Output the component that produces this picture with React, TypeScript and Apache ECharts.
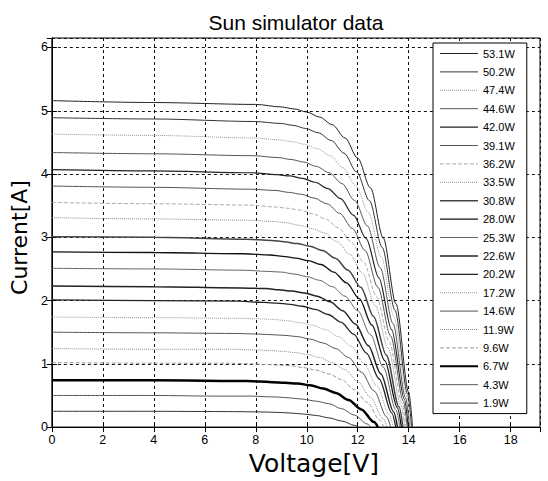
import React, { useEffect, useRef } from 'react';
import * as echarts from 'echarts';

const powerLabels = ['53.1W', '50.2W', '47.4W', '44.6W', '42.0W', '39.1W', '36.2W', '33.5W', '30.8W', '28.0W', '25.3W', '22.6W', '20.2W', '17.2W', '14.6W', '11.9W', '9.6W', '6.7W', '4.3W', '1.9W'];

const xTicks = [0, 2, 4, 6, 8, 10, 12, 14, 16, 18];
const yTicks = [0, 1, 2, 3, 4, 5, 6];

// Voltage [V] / Current [A], one pair of arrays per curve
const v53_1 = [0, 4, 8.0, 9.0, 9.5, 10.0, 10.5, 11.0, 11.5, 12.0, 12.5, 13.0, 13.5, 14.0, 14.15];
const i53_1 = [5.16, 5.13, 5.10, 5.06, 5.03, 4.98, 4.90, 4.78, 4.57, 4.25, 3.78, 2.99, 1.95, 0.55, 0];
const v50_2 = [0, 4, 7.96, 8.96, 9.46, 9.96, 10.46, 10.96, 11.46, 11.96, 12.46, 12.96, 13.46, 13.96, 14.11];
const i50_2 = [4.89, 4.87, 4.83, 4.80, 4.77, 4.72, 4.65, 4.53, 4.33, 4.03, 3.58, 2.84, 1.85, 0.52, 0];
const v47_4 = [0, 4, 7.92, 8.92, 9.42, 9.92, 10.42, 10.92, 11.42, 11.92, 12.42, 12.92, 13.42, 13.92, 14.07];
const i47_4 = [4.63, 4.61, 4.57, 4.54, 4.51, 4.47, 4.40, 4.29, 4.10, 3.82, 3.39, 2.69, 1.75, 0.50, 0];
const v44_6 = [0, 4, 7.88, 8.88, 9.38, 9.88, 10.38, 10.88, 11.38, 11.88, 12.38, 12.88, 13.38, 13.88, 14.03];
const i44_6 = [4.34, 4.32, 4.29, 4.26, 4.23, 4.19, 4.12, 4.02, 3.85, 3.58, 3.18, 2.52, 1.64, 0.46, 0];
const v42_0 = [0, 4, 7.83, 8.83, 9.33, 9.83, 10.33, 10.83, 11.33, 11.83, 12.33, 12.83, 13.33, 13.83, 13.98];
const i42_0 = [4.07, 4.05, 4.02, 3.99, 3.97, 3.93, 3.87, 3.77, 3.61, 3.35, 2.98, 2.36, 1.54, 0.44, 0];
const v39_1 = [0, 4, 7.79, 8.79, 9.29, 9.79, 10.29, 10.79, 11.29, 11.79, 12.29, 12.79, 13.29, 13.79, 13.94];
const i39_1 = [3.81, 3.79, 3.76, 3.74, 3.71, 3.68, 3.62, 3.53, 3.38, 3.14, 2.79, 2.21, 1.44, 0.41, 0];
const v36_2 = [0, 4, 7.74, 8.74, 9.24, 9.74, 10.24, 10.74, 11.24, 11.74, 12.24, 12.74, 13.24, 13.74, 13.89];
const i36_2 = [3.55, 3.53, 3.51, 3.48, 3.46, 3.43, 3.37, 3.29, 3.15, 2.93, 2.60, 2.06, 1.34, 0.38, 0];
const v33_5 = [0, 4, 7.69, 8.69, 9.19, 9.69, 10.19, 10.69, 11.19, 11.69, 12.19, 12.69, 13.19, 13.69, 13.84];
const i33_5 = [3.31, 3.29, 3.27, 3.25, 3.23, 3.19, 3.14, 3.07, 2.93, 2.73, 2.43, 1.92, 1.25, 0.35, 0];
const v30_8 = [0, 4, 7.62, 8.62, 9.12, 9.62, 10.12, 10.62, 11.12, 11.62, 12.12, 12.62, 13.12, 13.62, 13.77];
const i30_8 = [3.01, 3.0, 2.97, 2.95, 2.93, 2.90, 2.86, 2.79, 2.67, 2.48, 2.21, 1.75, 1.14, 0.32, 0];
const v28_0 = [0, 4, 7.56, 8.56, 9.06, 9.56, 10.06, 10.56, 11.06, 11.56, 12.06, 12.56, 13.06, 13.56, 13.71];
const i28_0 = [2.77, 2.76, 2.74, 2.72, 2.70, 2.67, 2.63, 2.57, 2.45, 2.28, 2.03, 1.61, 1.05, 0.30, 0];
const v25_3 = [0, 4, 7.5, 8.5, 9.0, 9.5, 10.0, 10.5, 11.0, 11.5, 12.0, 12.5, 13.0, 13.5, 13.65];
const i25_3 = [2.51, 2.50, 2.48, 2.46, 2.45, 2.42, 2.38, 2.32, 2.22, 2.07, 1.84, 1.46, 0.95, 0.27, 0];
const v22_6 = [0, 4, 7.41, 8.41, 8.91, 9.41, 9.91, 10.41, 10.91, 11.41, 11.91, 12.41, 12.91, 13.41, 13.56];
const i22_6 = [2.23, 2.22, 2.20, 2.19, 2.17, 2.15, 2.12, 2.07, 1.98, 1.84, 1.63, 1.29, 0.84, 0.24, 0];
const v20_2 = [0, 4, 7.34, 8.34, 8.84, 9.34, 9.84, 10.34, 10.84, 11.34, 11.84, 12.34, 12.84, 13.34, 13.49];
const i20_2 = [2.01, 2.0, 1.99, 1.97, 1.96, 1.94, 1.91, 1.86, 1.78, 1.66, 1.47, 1.17, 0.76, 0.22, 0];
const v17_2 = [0, 4, 7.24, 8.24, 8.74, 9.24, 9.74, 10.24, 10.74, 11.24, 11.74, 12.24, 12.74, 13.24, 13.39];
const i17_2 = [1.74, 1.73, 1.72, 1.71, 1.70, 1.68, 1.65, 1.61, 1.54, 1.43, 1.28, 1.01, 0.66, 0.19, 0];
const v14_6 = [0, 4, 7.14, 8.14, 8.64, 9.14, 9.64, 10.14, 10.64, 11.14, 11.64, 12.14, 12.64, 13.14, 13.29];
const i14_6 = [1.50, 1.49, 1.48, 1.47, 1.46, 1.45, 1.43, 1.39, 1.33, 1.24, 1.10, 0.87, 0.57, 0.16, 0];
const v11_9 = [0, 4, 7.0, 8.0, 8.5, 9.0, 9.5, 10.0, 10.5, 11.0, 11.5, 12.0, 12.5, 13.0, 13.15];
const i11_9 = [1.24, 1.23, 1.23, 1.22, 1.21, 1.20, 1.18, 1.15, 1.10, 1.02, 0.91, 0.72, 0.47, 0.13, 0];
const v9_6 = [0, 4, 6.87, 7.87, 8.37, 8.87, 9.37, 9.87, 10.37, 10.87, 11.37, 11.87, 12.37, 12.87, 13.02];
const i9_6 = [1.02, 1.01, 1.01, 1.0, 0.99, 0.98, 0.97, 0.94, 0.90, 0.84, 0.75, 0.59, 0.39, 0.11, 0];
const v6_7 = [0, 4, 6.64, 7.64, 8.14, 8.64, 9.14, 9.64, 10.14, 10.64, 11.14, 11.64, 12.14, 12.64, 12.79];
const i6_7 = [0.74, 0.74, 0.73, 0.73, 0.72, 0.71, 0.70, 0.69, 0.66, 0.61, 0.54, 0.43, 0.28, 0.08, 0];
const v4_3 = [0, 4, 6.37, 7.37, 7.87, 8.37, 8.87, 9.37, 9.87, 10.37, 10.87, 11.37, 11.87, 12.37, 12.52];
const i4_3 = [0.50, 0.50, 0.49, 0.49, 0.49, 0.48, 0.475, 0.46, 0.44, 0.41, 0.37, 0.29, 0.19, 0.05, 0];
const v1_9 = [0, 4, 5.88, 6.88, 7.38, 7.88, 8.38, 8.88, 9.38, 9.88, 10.38, 10.88, 11.38, 11.88, 12.03];
const i1_9 = [0.25, 0.25, 0.247, 0.245, 0.244, 0.241, 0.238, 0.232, 0.222, 0.206, 0.183, 0.145, 0.095, 0.027, 0];

const voltSets = [v53_1, v50_2, v47_4, v44_6, v42_0, v39_1, v36_2, v33_5, v30_8, v28_0, v25_3, v22_6, v20_2, v17_2, v14_6, v11_9, v9_6, v6_7, v4_3, v1_9];
const currSets = [i53_1, i50_2, i47_4, i44_6, i42_0, i39_1, i36_2, i33_5, i30_8, i28_0, i25_3, i22_6, i20_2, i17_2, i14_6, i11_9, i9_6, i6_7, i4_3, i1_9];

// styles
const lineColors = ['#222', '#333', '#999', '#555', '#222', '#555', '#aaa', '#888', '#444', '#111', '#666', '#222', '#222', '#999', '#555', '#888', '#999', '#000', '#555', '#333'];
const lineTypes = ['solid', 'solid', 'dotted', 'solid', 'solid', 'solid', 'dashed', 'dotted', 'solid', 'solid', 'solid', 'solid', 'solid', 'dotted', 'solid', 'dotted', 'dashed', 'solid', 'solid', 'solid'];
const lineWidths = [1, 1, 1, 1, 1.2, 1, 1, 1, 1.5, 1.3, 1, 1.5, 1.3, 1, 1, 1, 1, 2.5, 1, 1];

const X_MAX = 19.15;
const Y_MAX = 6.15;

export default function App() {
  const ref = useRef<HTMLDivElement>(null);
  useEffect(() => {
    if (!ref.current) return;
    const chart = echarts.init(ref.current, undefined, { renderer: 'svg' });
    const tickFont = { fontFamily: 'Liberation Sans, Arial, sans-serif', fontSize: 12.5, color: '#000' };
    const gridLine = { show: true, lineStyle: { color: '#111', type: [3, 3] as any, width: 1 } };
    const series = powerLabels.map((name, k) => ({
      name,
      type: 'line',
      xAxisIndex: 0,
      yAxisIndex: 0,
      symbol: 'none',
      showSymbol: false,
      smooth: 0.3,
      smoothMonotone: 'x',
      data: voltSets[k].map((v, j) => [v, currSets[k][j]]),
      lineStyle: { color: lineColors[k], type: lineTypes[k], width: lineWidths[k] },
      itemStyle: { color: lineColors[k] },
      z: 3,
    }));
    chart.setOption({
      animation: false,
      backgroundColor: '#fff',
      title: {
        text: 'Sun simulator data',
        left: 291,
        textAlign: 'center',
        top: 7,
        textStyle: { fontFamily: 'Liberation Sans, Arial, sans-serif', fontSize: 21, fontWeight: 'normal', color: '#000' },
      },
      grid: { left: 45, top: 38, right: 8, bottom: 44, show: true, borderColor: '#000', borderWidth: 1, backgroundColor: 'transparent' },
      legend: {
        orient: 'vertical',
        left: 433,
        top: 43,
        padding: [5, 12, 5, 6],
        itemWidth: 38,
        itemHeight: 12,
        itemGap: 7.4,
        backgroundColor: '#fff',
        borderColor: '#000',
        borderWidth: 1,
        data: powerLabels.map((name, k) => ({
          name,
          lineStyle: { width: Math.min(lineWidths[k], 2), color: lineColors[k], type: lineTypes[k] },
        })),
        itemStyle: { opacity: 0 },
        textStyle: { fontFamily: 'Liberation Sans, Arial, sans-serif', fontSize: 11, color: '#000' },
        z: 10,
      },
      xAxis: [
        {
          type: 'value',
          min: xTicks[0],
          max: X_MAX,
          interval: 2,
          name: 'Voltage[V]',
          nameLocation: 'middle',
          nameGap: 20,
          nameTextStyle: { fontFamily: 'DejaVu Sans, sans-serif', fontSize: 25, color: '#000', verticalAlign: 'top', padding: [0, 0, 0, 36] },
          axisLine: { show: true, lineStyle: { color: '#000' } },
          axisTick: { show: true, inside: true, length: 5, lineStyle: { color: '#000' } },
          axisLabel: { ...tickFont, margin: 6, showMaxLabel: false },
          splitLine: gridLine,
        },
        {
          type: 'value',
          position: 'top',
          min: xTicks[0],
          max: X_MAX,
          interval: 2,
          axisLine: { show: true, lineStyle: { color: '#000' } },
          axisTick: { show: true, inside: true, length: 5, lineStyle: { color: '#000' } },
          axisLabel: { show: false },
          splitLine: { show: false },
        },
      ],
      yAxis: [
        {
          type: 'value',
          min: yTicks[0],
          max: Y_MAX,
          interval: 1,
          name: 'Current[A]',
          nameLocation: 'middle',
          nameGap: 18,
          nameRotate: 90,
          nameTextStyle: { fontFamily: 'DejaVu Sans, sans-serif', fontSize: 22, color: '#000', padding: [0, 10, 0, 0] },
          axisLine: { show: true, lineStyle: { color: '#000' } },
          axisTick: { show: true, inside: true, length: 5, lineStyle: { color: '#000' } },
          axisLabel: { ...tickFont, margin: 4, showMaxLabel: false },
          splitLine: gridLine,
        },
        {
          type: 'value',
          position: 'right',
          min: yTicks[0],
          max: Y_MAX,
          interval: 1,
          axisLine: { show: true, lineStyle: { color: '#000' } },
          axisTick: { show: true, inside: true, length: 5, lineStyle: { color: '#000' } },
          axisLabel: { show: false },
          splitLine: { show: false },
        },
      ],
      series,
    });
    return () => chart.dispose();
  }, []);
  return <div ref={ref} style={{ position: 'fixed', left: 0, top: 0, width: 548, height: 481 }} />;
}
